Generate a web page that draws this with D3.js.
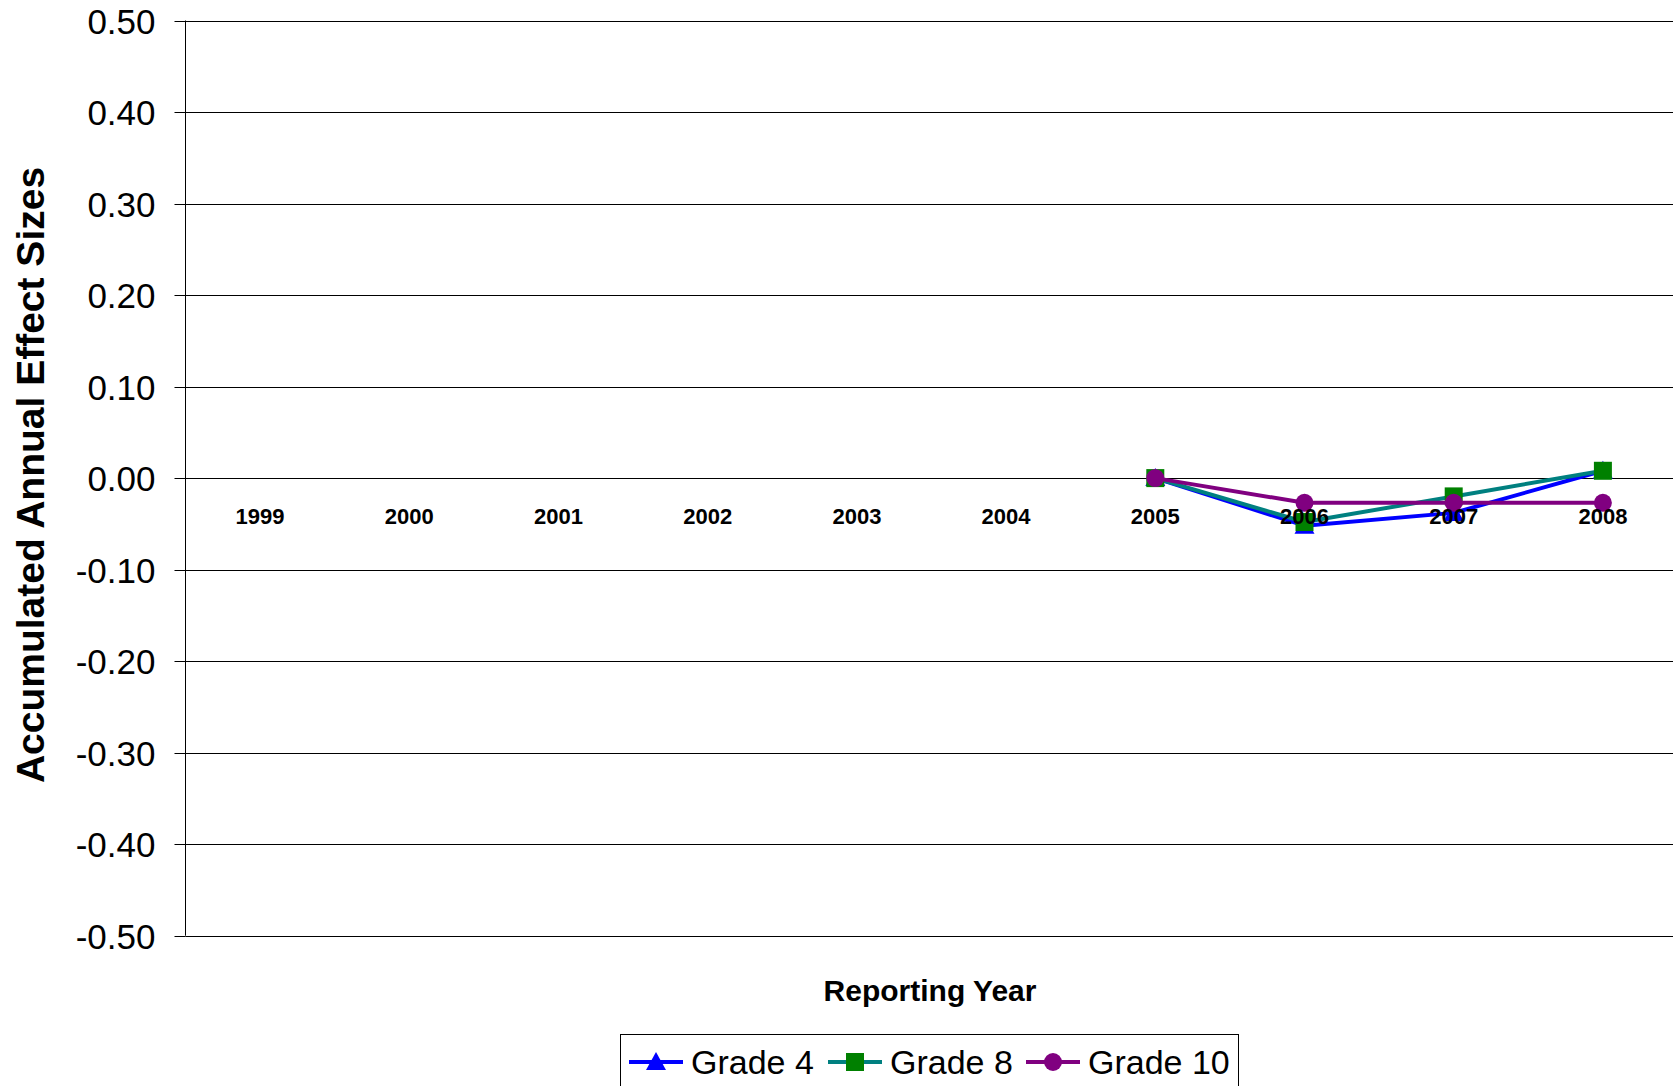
<!DOCTYPE html>
<html><head><meta charset="utf-8">
<script src="https://cdn.jsdelivr.net/npm/d3@7"></script>
<style>body{margin:0;background:#fff}svg{display:block}text{font-family:"Liberation Sans",Arial,sans-serif}</style>
</head><body>
<svg id="c" width="1673" height="1086"></svg>
<script>
const years = ["1999","2000","2001","2002","2003","2004","2005","2006","2007","2008"];
const yTicks = [0.5,0.4,0.3,0.2,0.1,0,-0.1,-0.2,-0.3,-0.4,-0.5];
const grade4 = [null,null,null,null,null,null,0.000,-0.052,-0.038,0.008];
const grade8 = [null,null,null,null,null,null,0.000,-0.048,-0.020,0.008];
const grade10 = [null,null,null,null,null,null,0.000,-0.027,-0.027,-0.027];
const seriesNames = ["Grade 4","Grade 8","Grade 10"];

(function(){
const svg = d3.select("#c");
const pLeft = 185.5, pTop = 20.5, pBottom = 935.7, pRight = 1677.5;
const x = d3.scaleBand().domain(years).range([pLeft, pRight]);
const y = d3.scaleLinear().domain([-0.5, 0.5]).range([pBottom, pTop]);

// gridlines
svg.append("g").selectAll("line").data(yTicks).join("line")
  .attr("x1", pLeft).attr("x2", 1673)
  .attr("y1", d => Math.round(y(d)) + 0.5).attr("y2", d => Math.round(y(d)) + 0.5)
  .attr("stroke", "#000").attr("stroke-width", 1);

// y axis
const fmt = d => (d < 0 ? "-" : "") + Math.abs(d).toFixed(2);
const yAxis = d3.axisLeft(y).tickValues(yTicks).tickFormat(fmt).tickSize(11).tickPadding(19);
const ga = svg.append("g").attr("transform", `translate(${pLeft},0)`).call(yAxis);
ga.select(".domain").attr("stroke", "#000").attr("d", `M0,${y(0.5)}V${y(-0.5)}`);
ga.selectAll(".tick").attr("transform", d => `translate(0,${Math.round(y(d)) + 0.5})`);
ga.selectAll(".tick line").attr("stroke", "#000");
ga.selectAll(".tick text").attr("font-size", 35).attr("font-family", '"Liberation Sans",Arial,sans-serif').attr("fill", "#000").attr("dy", "0.35em");

// y title
svg.append("text").attr("transform", "translate(44,475) rotate(-90)")
  .attr("text-anchor", "middle").attr("font-size", 39).attr("font-weight", "bold").text("Accumulated Annual Effect Sizes");

// x title
svg.append("text").attr("x", 930).attr("y", 1001).attr("text-anchor", "middle")
  .attr("font-size", 30).attr("font-weight", "bold").text("Reporting Year");

const series = [
  {name: seriesNames[0], vals: grade4, line: "#0000FF", fill: "#0000FF", shape: "tri"},
  {name: seriesNames[1], vals: grade8, line: "#008080", fill: "#008000", shape: "sq"},
  {name: seriesNames[2], vals: grade10, line: "#800080", fill: "#800080", shape: "circ"}
];
const cx = d => x(d) + x.bandwidth() / 2;
function marker(g, shape, fill, px, py) {
  if (shape === "tri") g.append("path").attr("d", `M${px},${py-10}L${px+10},${py+8}L${px-10},${py+8}Z`).attr("fill", fill);
  else if (shape === "sq") g.append("rect").attr("x", px-9).attr("y", py-9).attr("width", 18).attr("height", 18).attr("fill", fill);
  else g.append("circle").attr("cx", px).attr("cy", py).attr("r", 9).attr("fill", fill);
}
series.forEach(s => {
  const pts = years.map((yr, i) => ({yr, v: s.vals[i]})).filter(p => p.v !== null);
  const g = svg.append("g");
  g.append("path").datum(pts)
    .attr("d", d3.line().x(p => cx(p.yr)).y(p => y(p.v)))
    .attr("fill", "none").attr("stroke", s.line).attr("stroke-width", 4).attr("stroke-linejoin", "round");
  pts.forEach(p => marker(g, s.shape, s.fill, cx(p.yr), y(p.v)));
});

// category labels
svg.append("g").selectAll("text").data(years).join("text")
  .attr("x", d => cx(d)).attr("y", 524).attr("text-anchor", "middle")
  .attr("font-size", 22).attr("font-weight", "bold").text(d => d);

// legend
const lg = svg.append("g");
lg.append("rect").attr("x", 620.5).attr("y", 1034.5).attr("width", 618).attr("height", 70)
  .attr("fill", "#fff").attr("stroke", "#000").attr("stroke-width", 1);
const legX = [629, 828, 1026];
series.forEach((s, i) => {
  const lx = legX[i];
  lg.append("line").attr("x1", lx).attr("x2", lx + 54).attr("y1", 1062).attr("y2", 1062)
    .attr("stroke", s.line).attr("stroke-width", 4);
  marker(lg, s.shape, s.fill, lx + 27, 1062);
  lg.append("text").attr("x", lx + 62).attr("y", 1074).attr("font-size", 34).text(s.name);
});
})();
</script>
</body></html>
